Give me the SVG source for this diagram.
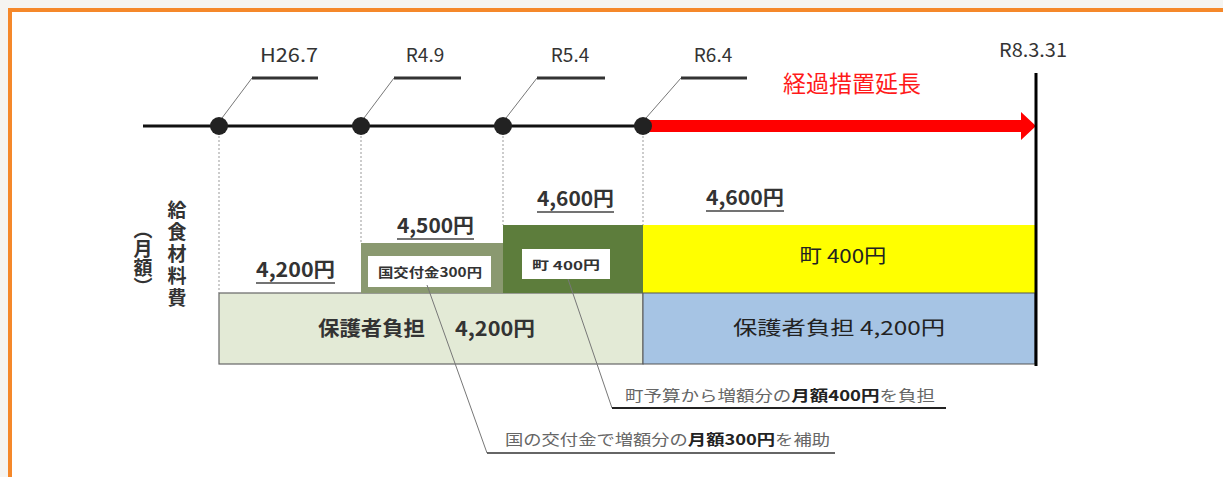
<svg xmlns="http://www.w3.org/2000/svg" width="1223" height="477" viewBox="0 0 1223 477">
<style>
text{font-family:"Noto Sans CJK JP","Noto Sans",sans-serif;}
.date{font-size:19px;fill:#333;}
.amt{font-size:20px;font-weight:bold;fill:#333;}
.ul{stroke:#444;stroke-width:1.6;}
.lead{stroke:#333;stroke-width:3;}
.diag{stroke:#777;stroke-width:1;fill:none;}
.dot{fill:#222;}
.vdash{stroke:#999;stroke-width:1;stroke-dasharray:2,2;}
.note{font-size:15px;fill:#666;}
.note tspan.b{font-weight:bold;fill:#222;}
</style>
<rect x="0" y="0" width="1223" height="477" fill="#f5f4f1"/>
<rect x="10" y="10" width="1230" height="480" fill="#ffffff" stroke="#f5882a" stroke-width="4"/>

<g id="bars">
  <rect x="219" y="293" width="424" height="71" fill="#e3ead6" stroke="#666" stroke-width="1.2"/>
  <rect x="361" y="243" width="142" height="50" fill="#8a9970"/>
  <rect x="368" y="256" width="123" height="31" fill="#ffffff"/>
  <rect x="503" y="225" width="140" height="68" fill="#5d7d3c"/>
  <rect x="522" y="249" width="88" height="30" fill="#ffffff"/>
  <rect x="643" y="225" width="392" height="68" fill="#ffff00"/>
  <rect x="643" y="293" width="392" height="71" fill="#a6c4e4" stroke="#555" stroke-width="1"/>
</g>

<g id="vguides">
  <line class="vdash" x1="219" y1="136" x2="219" y2="293"/>
  <line class="vdash" x1="361" y1="136" x2="361" y2="243"/>
  <line class="vdash" x1="503" y1="136" x2="503" y2="225"/>
  <line class="vdash" x1="643" y1="136" x2="643" y2="225"/>
</g>

<g id="connectors">
  <line x1="143" y1="126" x2="643" y2="126" stroke="#111" stroke-width="3"/>
  <polygon points="643,120 1021,120 1021,112 1036,126 1021,140 1021,132 643,132" fill="#ff0000"/>
  <line x1="1036" y1="73" x2="1036" y2="366" stroke="#000" stroke-width="3"/>
  <polyline class="diag" points="222,118 252,78"/>
  <polyline class="diag" points="364,118 394,78"/>
  <polyline class="diag" points="506,118 537,78"/>
  <polyline class="diag" points="646,118 681,78"/>
  <polyline class="diag" points="427,285 487,453"/>
  <polyline class="diag" points="568,279 612,408"/>
  <line x1="487" y1="453" x2="835" y2="453" stroke="#333" stroke-width="1.5"/>
  <line x1="612" y1="408" x2="946" y2="408" stroke="#222" stroke-width="2"/>
</g>

<g id="t-h26">
  <circle class="dot" cx="219" cy="126" r="9"/>
  <line class="lead" x1="252" y1="78" x2="318" y2="78"/>
  <text class="date" x="289" y="62" text-anchor="middle" textLength="58" lengthAdjust="spacingAndGlyphs">H26.7</text>
</g>
<g id="t-r49">
  <circle class="dot" cx="361" cy="126" r="9"/>
  <line class="lead" x1="394" y1="78" x2="461" y2="78"/>
  <text class="date" x="425" y="62" text-anchor="middle">R4.9</text>
</g>
<g id="t-r54">
  <circle class="dot" cx="503" cy="126" r="9"/>
  <line class="lead" x1="537" y1="78" x2="605" y2="78"/>
  <text class="date" x="570" y="62" text-anchor="middle">R5.4</text>
</g>
<g id="t-r64">
  <circle class="dot" cx="643" cy="126" r="9"/>
  <line class="lead" x1="681" y1="78" x2="747" y2="78"/>
  <text class="date" x="713" y="62" text-anchor="middle">R6.4</text>
</g>
<g id="t-r8">
  <text class="date" x="1033" y="57" text-anchor="middle" textLength="68" lengthAdjust="spacingAndGlyphs">R8.3.31</text>
</g>
<g id="extend">
  <text x="852" y="92" text-anchor="middle" font-size="23" fill="#ff1a1a">経過措置延長</text>
</g>

<g id="ylabel">
  <text x="177" y="200" font-size="19" font-weight="bold" fill="#333" style="writing-mode:vertical-rl" letter-spacing="3">給食材料費</text>
  <text x="143" y="220" font-size="19" font-weight="bold" fill="#333" style="writing-mode:vertical-rl">（月額）</text>
</g>

<g id="amounts">
  <text class="amt" x="256" y="277" textLength="79" lengthAdjust="spacingAndGlyphs">4,200円</text>
  <line class="ul" x1="256" y1="283" x2="335" y2="283"/>
  <text class="amt" x="397" y="233" textLength="77" lengthAdjust="spacingAndGlyphs">4,500円</text>
  <line class="ul" x1="397" y1="239" x2="474" y2="239"/>
  <text class="amt" x="537" y="206" textLength="77" lengthAdjust="spacingAndGlyphs">4,600円</text>
  <line class="ul" x1="537" y1="212" x2="614" y2="212"/>
  <text class="amt" x="706" y="205" textLength="78" lengthAdjust="spacingAndGlyphs">4,600円</text>
  <line class="ul" x1="706" y1="211" x2="784" y2="211"/>
</g>

<g id="box-kuni">
  <text x="430" y="277" text-anchor="middle" font-size="13" font-weight="bold" fill="#333" textLength="104" lengthAdjust="spacingAndGlyphs">国交付金300円</text>
</g>
<g id="box-machi">
  <text x="566" y="270" text-anchor="middle" font-size="12" font-weight="bold" fill="#333" textLength="68" lengthAdjust="spacingAndGlyphs">町 400円</text>
</g>
<g id="bar-machi">
  <text x="843" y="263" text-anchor="middle" font-size="19" fill="#222" textLength="87" lengthAdjust="spacingAndGlyphs">町  400円</text>
</g>
<g id="bar-hogo-left">
  <text x="318" y="336" font-size="20" font-weight="bold" fill="#333" textLength="107" lengthAdjust="spacingAndGlyphs">保護者負担</text>
  <text x="455" y="336" font-size="20" font-weight="bold" fill="#333" textLength="80" lengthAdjust="spacingAndGlyphs">4,200円</text>
</g>
<g id="bar-hogo-right">
  <text x="839" y="335" text-anchor="middle" font-size="19" fill="#222" textLength="212" lengthAdjust="spacingAndGlyphs">保護者負担 4,200円</text>
</g>

<g id="note-machi">
  <text class="note" x="625" y="401" textLength="310" lengthAdjust="spacingAndGlyphs">町予算から増額分の<tspan class="b">月額400円</tspan>を負担</text>
</g>
<g id="note-kuni">
  <text class="note" x="505" y="445" textLength="325" lengthAdjust="spacingAndGlyphs">国の交付金で増額分の<tspan class="b">月額300円</tspan>を補助</text>
</g>
</svg>
